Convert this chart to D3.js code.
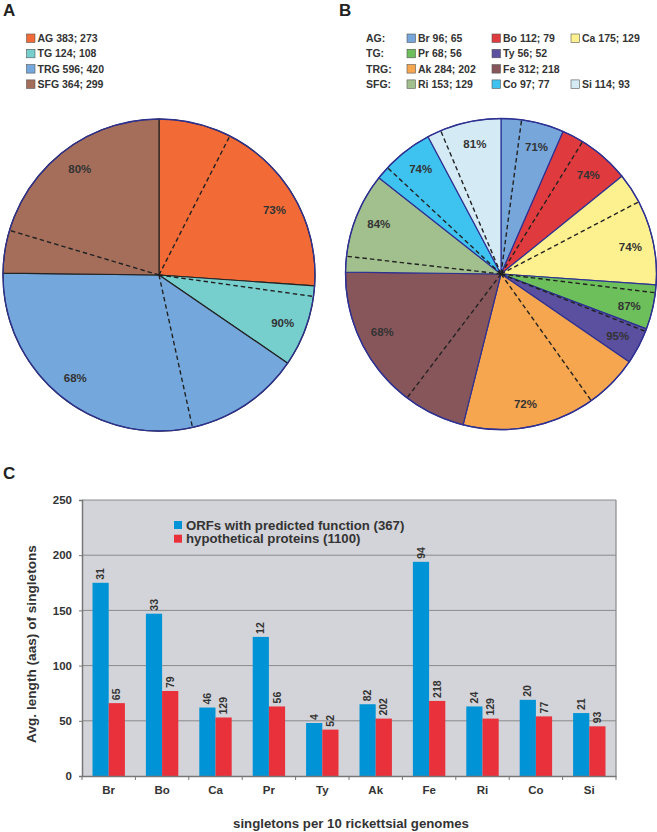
<!DOCTYPE html>
<html><head><meta charset="utf-8">
<script src="https://cdn.jsdelivr.net/npm/d3@7/dist/d3.min.js"></script>
<style>
html,body{margin:0;padding:0;background:#fff;}
svg{display:block;font-family:"Liberation Sans",Arial,sans-serif;}
</style></head>
<body>
<svg id="chart" width="657" height="832"></svg>
<script>
// ---------- DATA ----------
const groupsA = ["AG", "TG", "TRG", "SFG"];
const totalsA = [383, 124, 596, 364];
const funcA = [273, 108, 420, 299];
const pctA = ["73%", "90%", "68%", "80%"];
const colorsA = ["#F26B36", "#76CECD", "#74A8DC", "#A46E5B"];

const genomes = ["Br", "Bo", "Ca", "Pr", "Ty", "Ak", "Fe", "Ri", "Co", "Si"];
const genomeGroup = ["AG", "AG", "AG", "TG", "TG", "TRG", "TRG", "SFG", "SFG", "SFG"];
const totalsB = [96, 112, 175, 68, 56, 284, 312, 153, 97, 114];
const funcB = [65, 79, 129, 56, 52, 202, 218, 129, 77, 93];
const pctB = ["71%", "74%", "74%", "87%", "95%", "72%", "68%", "84%", "74%", "81%"];
const colorsB = ["#76A6DA", "#DF3B3F", "#FDF18F", "#6DBF5B", "#5B4FA0", "#F6A64E", "#87565A", "#A2BF8E", "#3EC3F0", "#D4EBF5"];

const seriesNames = ["ORFs with predicted function (367)", "hypothetical proteins (1100)"];
const orfLength = [175, 147, 62, 126, 48, 65, 194, 63, 69, 57];
const hypLength = [66, 77, 53, 63, 42, 52, 68, 52, 54, 45];
const orfCount = [31, 33, 46, 12, 4, 82, 94, 24, 20, 21];
const hypCount = [65, 79, 129, 56, 52, 202, 218, 129, 77, 93];
const yTicks = [0, 50, 100, 150, 200, 250];
const barColors = ["#0093D6", "#E8313B"];

// ---------- DRAW ----------
const svg = d3.select("#chart");
const textCol = "#333";
const navy = "#2E3192";

function fitWidth(sel, target) {
  const w = sel.node().getComputedTextLength();
  const fs = parseFloat(sel.attr("font-size"));
  if (w > 0) sel.attr("font-size", fs * target / w);
}

function panelLabel(t, x, y) {
  svg.append("text").attr("x", x).attr("y", y).text(t)
    .attr("font-size", 17).attr("font-weight", "bold").attr("fill", "#222");
}
panelLabel("A", 3, 16);
panelLabel("B", 339, 16);
panelLabel("C", 3, 479);

function drawPie(cx, cy, R, totals, func, pcts, colors, sepColor) {
  const g = svg.append("g").attr("transform", `translate(${cx},${cy})`);
  const pie = d3.pie().sort(null).value(d => d)(totals);
  const arc = d3.arc().innerRadius(0).outerRadius(R);
  g.selectAll("path.slice").data(pie).join("path")
    .attr("class", "slice")
    .attr("d", arc)
    .attr("fill", (d, i) => colors[i])
    .attr("stroke", sepColor).attr("stroke-width", 1.2).attr("stroke-linejoin", "round");
  pie.forEach((d, i) => {
    const a = d.startAngle + (totals[i] - func[i]) / totals[i] * (d.endAngle - d.startAngle);
    g.append("line").attr("x1", 0).attr("y1", 0)
      .attr("x2", R * Math.sin(a)).attr("y2", -R * Math.cos(a))
      .attr("stroke", "#222").attr("stroke-width", 1.4).attr("stroke-dasharray", "4.5,3");
  });
  g.append("circle").attr("r", R).attr("fill", "none").attr("stroke", navy).attr("stroke-width", 1.3);
  const labArc = d3.arc().innerRadius(R * 0.85).outerRadius(R * 0.85);
  pie.forEach((d, i) => {
    const a0 = d.startAngle + (totals[i] - func[i]) / totals[i] * (d.endAngle - d.startAngle);
    const c = labArc.centroid({ startAngle: a0, endAngle: d.endAngle });
    g.append("text").attr("x", c[0]).attr("y", c[1]).attr("dy", "0.35em")
      .attr("text-anchor", "middle").attr("font-size", 11.5).attr("font-weight", "bold")
      .attr("fill", textCol).text(pcts[i]);
  });
}

drawPie(159, 275, 156, totalsA, funcA, pctA, colorsA, "#222");
drawPie(501, 274, 155.5, totalsB, funcB, pctB, colorsB, navy);

// Legend A
const legA = svg.append("g");
groupsA.forEach((gname, i) => {
  const y = 38.5 + i * 15.3;
  legA.append("rect").attr("x", 26.5).attr("y", y - 4.5).attr("width", 8.5).attr("height", 8.5)
    .attr("fill", colorsA[i]).attr("stroke", "#555").attr("stroke-width", 0.6);
  legA.append("text").attr("x", 37.5).attr("y", y).attr("dy", "0.35em")
    .attr("font-size", 10.5).attr("font-weight", "bold").attr("fill", textCol)
    .text(`${gname} ${totalsA[i]}; ${funcA[i]}`);
});

// Legend B
const legB = svg.append("g");
const colX = [407, 492, 571];
groupsA.forEach((gname, r) => {
  const y = 38.5 + r * 15.3;
  legB.append("text").attr("x", 366).attr("y", y).attr("dy", "0.35em")
    .attr("font-size", 10.5).attr("font-weight", "bold").attr("fill", textCol).text(gname + ":");
  const members = genomes.map((g, i) => i).filter(i => genomeGroup[i] === gname);
  members.forEach((gi, c) => {
    const x = colX[c];
    legB.append("rect").attr("x", x).attr("y", y - 4.5).attr("width", 8.5).attr("height", 8.5)
      .attr("fill", colorsB[gi]).attr("stroke", "#555").attr("stroke-width", 0.6);
    legB.append("text").attr("x", x + 11).attr("y", y).attr("dy", "0.35em")
      .attr("font-size", 10.5).attr("font-weight", "bold").attr("fill", textCol)
      .text(`${genomes[gi]} ${totalsB[gi]}; ${funcB[gi]}`);
  });
});

// Bar chart C
const L = 82, T = 500, Rr = 616, B = 776;
const x0 = d3.scaleBand().domain(genomes).range([L, Rr]).padding(0);
const y = d3.scaleLinear().domain([0, 250]).range([B, T]);
const bw = 16.2;
const gC = svg.append("g");
gC.append("rect").attr("x", L).attr("y", T).attr("width", Rr - L).attr("height", B - T).attr("fill", "#D3D4D9");
gC.selectAll("line.grid").data(yTicks.filter(t => t > 0)).join("line")
  .attr("x1", L).attr("x2", Rr).attr("y1", d => y(d)).attr("y2", d => y(d))
  .attr("stroke", "#8a8a8a").attr("stroke-width", 1);
gC.append("line").attr("x1", Rr).attr("x2", Rr).attr("y1", T).attr("y2", B).attr("stroke", "#8a8a8a").attr("stroke-width", 1.2);

const series = [orfLength, hypLength];
const counts = [orfCount, hypCount];
series.forEach((vals, s) => {
  genomes.forEach((g, i) => {
    const cx = x0(g) + x0.bandwidth() / 2;
    const bx = s === 0 ? cx - bw : cx;
    gC.append("rect").attr("x", bx).attr("y", y(vals[i])).attr("width", bw).attr("height", B - y(vals[i]))
      .attr("fill", barColors[s]);
    gC.append("text")
      .attr("transform", `translate(${bx + bw / 2},${y(vals[i]) - 3}) rotate(-90)`)
      .attr("dy", "0.35em").attr("font-size", 10.5).attr("font-weight", "bold").attr("fill", textCol)
      .text(counts[s][i]);
  });
});

const yAxis = d3.axisLeft(y).tickValues(yTicks).tickSize(3).tickPadding(7);
const ya = gC.append("g").attr("transform", `translate(${L},0)`).call(yAxis);
ya.select(".domain").attr("stroke", "#777").attr("stroke-width", 1.5);
ya.selectAll(".tick line").attr("stroke", "#777");
ya.selectAll("text").attr("font-size", 11.5).attr("font-weight", "bold").attr("fill", textCol)
  .attr("font-family", "Liberation Sans, Arial, sans-serif");

const xAxis = d3.axisBottom(x0).tickSize(0).tickPadding(10);
const xa = gC.append("g").attr("transform", `translate(0,${B})`).call(xAxis);
xa.select(".domain").attr("stroke", "#777").attr("stroke-width", 1.5);
xa.selectAll("text").attr("font-size", 11.5).attr("font-weight", "bold").attr("fill", textCol)
  .attr("font-family", "Liberation Sans, Arial, sans-serif");
xa.selectAll("line.bt").data(genomes.concat(["_end"])).join("line").attr("class", "bt")
  .attr("x1", (d, i) => L + i * x0.bandwidth()).attr("x2", (d, i) => L + i * x0.bandwidth())
  .attr("y1", 0).attr("y2", 4).attr("stroke", "#777");

const yTitle = gC.append("text").attr("transform", `translate(31,644) rotate(-90)`)
  .attr("text-anchor", "middle").attr("dy", "0.35em").attr("font-size", 13).attr("font-weight", "bold").attr("fill", textCol)
  .text("Avg. length (aas) of singletons");
fitWidth(yTitle, 198);
const xTitle = gC.append("text").attr("x", 351).attr("y", 828)
  .attr("text-anchor", "middle").attr("font-size", 13.5).attr("font-weight", "bold").attr("fill", textCol)
  .text("singletons per 10 rickettsial genomes");
fitWidth(xTitle, 236);

seriesNames.forEach((n, i) => {
  const ly = 525 + i * 13.7;
  gC.append("rect").attr("x", 174).attr("y", ly - 4).attr("width", 8).attr("height", 8).attr("fill", barColors[i]);
  gC.append("text").attr("x", 186).attr("y", ly).attr("dy", "0.35em")
    .attr("font-size", 13.2).attr("font-weight", "bold").attr("fill", textCol).text(n);
});
</script>
</body></html>
